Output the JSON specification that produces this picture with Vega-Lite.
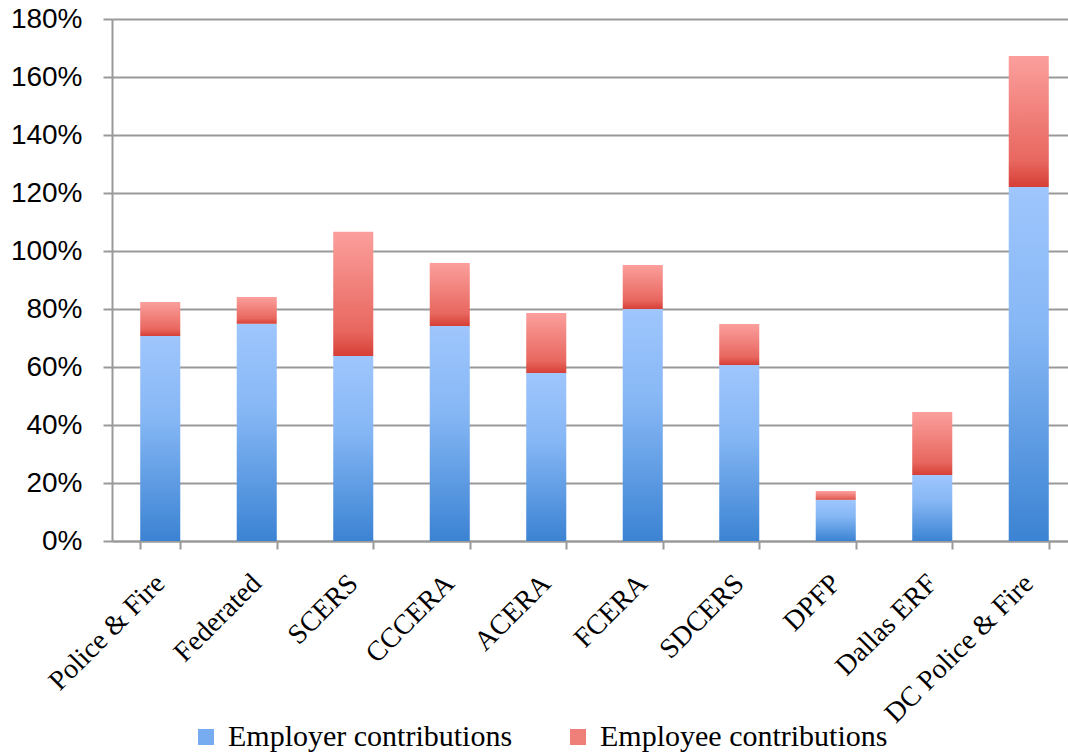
{
  "$schema": "https://vega.github.io/schema/vega-lite/v6.json",
  "width": 956,
  "height": 522,
  "autosize": {"type": "none"},
  "padding": {"left": 112, "top": 19, "right": 0, "bottom": 212},
  "background": "white",
  "data": {
    "values": [
      {"plan": "Police & Fire", "type": "Employer contributions", "value": 0.707},
      {"plan": "Police & Fire", "type": "Employee contributions", "value": 0.117},
      {"plan": "Federated", "type": "Employer contributions", "value": 0.749},
      {"plan": "Federated", "type": "Employee contributions", "value": 0.092},
      {"plan": "SCERS", "type": "Employer contributions", "value": 0.638},
      {"plan": "SCERS", "type": "Employee contributions", "value": 0.428},
      {"plan": "CCCERA", "type": "Employer contributions", "value": 0.741},
      {"plan": "CCCERA", "type": "Employee contributions", "value": 0.218},
      {"plan": "ACERA", "type": "Employer contributions", "value": 0.579},
      {"plan": "ACERA", "type": "Employee contributions", "value": 0.207},
      {"plan": "FCERA", "type": "Employer contributions", "value": 0.8},
      {"plan": "FCERA", "type": "Employee contributions", "value": 0.152},
      {"plan": "SDCERS", "type": "Employer contributions", "value": 0.607},
      {"plan": "SDCERS", "type": "Employee contributions", "value": 0.141},
      {"plan": "DPFP", "type": "Employer contributions", "value": 0.142},
      {"plan": "DPFP", "type": "Employee contributions", "value": 0.03},
      {"plan": "Dallas ERF", "type": "Employer contributions", "value": 0.228},
      {"plan": "Dallas ERF", "type": "Employee contributions", "value": 0.217},
      {"plan": "DC Police & Fire", "type": "Employer contributions", "value": 1.221},
      {"plan": "DC Police & Fire", "type": "Employee contributions", "value": 0.451}
    ]
  },
  "encoding": {
    "x": {
      "field": "plan",
      "type": "nominal",
      "sort": null,
      "scale": {"range": [0, 965], "paddingInner": 0.585, "paddingOuter": 0.2925},
      "axis": {
        "title": null,
        "labelAngle": -45,
        "labelAlign": "right",
        "labelBaseline": "middle",
        "labelFont": "Liberation Serif",
        "labelFontSize": 28,
        "labelColor": "black",
        "labelPadding": 30,
        "labelLimit": 400,
        "tickBand": "extent",
        "ticks": true,
        "tickSize": 8,
        "tickColor": "#999999",
        "tickWidth": 2,
        "domainColor": "#999999",
        "domainWidth": 2,
        "grid": false
      }
    },
    "y": {
      "field": "value",
      "type": "quantitative",
      "stack": "zero",
      "scale": {"domain": [0, 1.8], "nice": false},
      "axis": {
        "title": null,
        "format": ".0%",
        "values": [0, 0.2, 0.4, 0.6, 0.8, 1.0, 1.2, 1.4, 1.6, 1.8],
        "labelFont": "Liberation Sans",
        "labelFontSize": 28,
        "labelColor": "black",
        "labelPadding": 21,
        "tickSize": 9,
        "tickColor": "#999999",
        "tickWidth": 2,
        "domainColor": "#999999",
        "domainWidth": 2,
        "grid": true,
        "gridColor": "#999999",
        "gridWidth": 2
      }
    },
    "order": {"field": "type", "sort": "descending"}
  },
  "layer": [
    {
      "mark": {"type": "bar"},
      "encoding": {
        "detail": {"field": "type"},
        "fill": {
          "condition": {
            "test": "datum.type === 'Employer contributions'",
            "value": {"gradient": "linear", "x1": 0, "y1": 1, "x2": 0, "y2": 0, "stops": [
              {"offset": 0, "color": "#3b83d3"},
              {"offset": 0.6, "color": "#86b7f5"},
              {"offset": 1, "color": "#9fc6fd"}
            ]}
          },
          "value": {"gradient": "linear", "x1": 0, "y1": 1, "x2": 0, "y2": 0, "stops": [
            {"offset": 0, "color": "#d63f36"},
            {"offset": 0.2, "color": "#e8675f"},
            {"offset": 1, "color": "#fb9f9c"}
          ]}
        }
      }
    },
    {
      "mark": {"type": "bar", "opacity": 0},
      "encoding": {
        "color": {
          "field": "type",
          "type": "nominal",
          "scale": {
            "domain": ["Employer contributions", "Employee contributions"],
            "range": ["#78acf0", "#ee7f79"]
          },
          "legend": {
            "title": null,
            "orient": "none",
            "direction": "horizontal",
            "legendX": 79,
            "legendY": 703,
            "padding": 0,
            "symbolType": "square",
            "symbolSize": 256,
            "symbolStrokeWidth": 0,
            "symbolOpacity": 1,
            "labelFont": "Liberation Serif",
            "labelFontSize": 30,
            "labelColor": "black",
            "labelOffset": 7,
            "labelLimit": 400,
            "columnPadding": 50
          }
        }
      }
    }
  ],
  "config": {
    "view": {"stroke": null}
  }
}
